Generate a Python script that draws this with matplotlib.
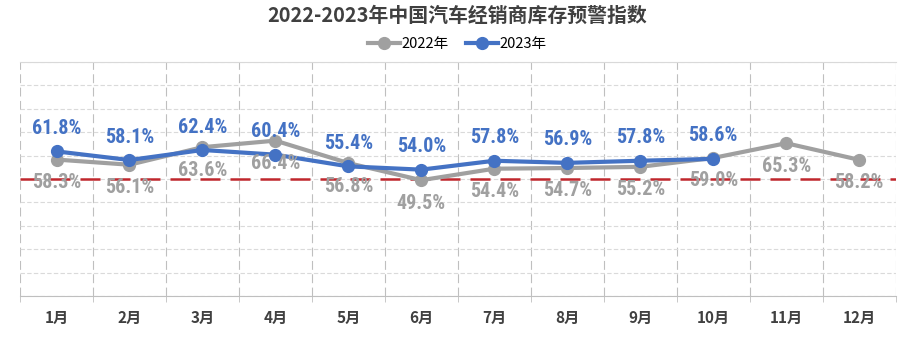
import numpy as np
import matplotlib
matplotlib.use("Agg")
import matplotlib.pyplot as plt

months = ["1月", "2月", "3月", "4月", "5月", "6月",
          "7月", "8月", "9月", "10月", "11月", "12月"]
idx_2022 = [58.3, 56.1, 63.6, 66.4, 56.8, 49.5, 54.4, 54.7, 55.2, 59.0, 65.3, 58.2]
idx_2023 = [61.8, 58.1, 62.4, 60.4, 55.4, 54.0, 57.8, 56.9, 57.8, 58.6]
warn_line = 50

plt.rcParams['font.family'] = ['Noto Sans CJK SC', 'DejaVu Sans']

gray = "#A0A0A0"
blue = "#4472C4"

fig = plt.figure(figsize=(9.14, 3.42), dpi=100)
ax = fig.add_axes([0.0219, 0.1345, 0.958, 0.6842])

x = np.arange(len(months))
ax.axhline(warn_line, color="#C0272D", lw=1.8, dashes=(8, 4), zorder=2)
ax.plot(x, idx_2022, color=gray, lw=3, marker="o", ms=8.5, label="2022年", zorder=3)
ax.plot(x[:len(idx_2023)], idx_2023, color=blue, lw=3, marker="o", ms=8.5,
        label="2023年", zorder=4)

# condensed bold for the point labels
lab_font = dict(family=['Roboto Condensed', 'Roboto', 'DejaVu Sans'],
                weight="bold", size=14.5)
for i, v in enumerate(idx_2022):
    ax.annotate(f"{v:.1f}%", (x[i], v), xytext=(0, -16.5), textcoords="offset points",
                ha="center", va="center", color=gray, **lab_font, zorder=5)
for i, v in enumerate(idx_2023):
    ax.annotate(f"{v:.1f}%", (x[i], v), xytext=(0, 16.5), textcoords="offset points",
                ha="center", va="center", color=blue, **lab_font, zorder=5)

ax.set_xlim(-0.5, len(months) - 0.5)
ax.set_ylim(0, 100)
ax.set_yticks(np.arange(0, 101, 10))
ax.set_xticks(x)
ax.set_xticklabels(months, fontsize=11, fontweight="bold", color="#404040")
ax.set_xticks(np.arange(-0.5, len(months)), minor=True)
ax.tick_params(axis="x", which="major", length=0, pad=10)
ax.tick_params(axis="x", which="minor", length=4, color="#BFBFBF")
ax.tick_params(axis="y", left=False, labelleft=False)

ax.grid(axis="y", which="major", color="#DADADA", lw=0.8, ls=(0, (4, 2)))
ax.grid(axis="x", which="minor", color="#BFBFBF", lw=0.8, ls=(0, (8, 4)))
for side in ["left", "right"]:
    ax.spines[side].set_visible(False)
ax.spines["top"].set_color("#D9D9D9")
ax.spines["bottom"].set_color("#BFBFBF")

fig.suptitle("2022-2023年中国汽车经销商库存预警指数", x=0.5, y=0.985,
             fontsize=14.3, fontweight="bold", color="#404040")
fig.legend(loc="center", bbox_to_anchor=(0.5, 0.872), ncol=2, frameon=False,
           fontsize=10.5, handlelength=2.2, handletextpad=0.1, columnspacing=1.2)

fig.savefig("out.png", dpi=100)
